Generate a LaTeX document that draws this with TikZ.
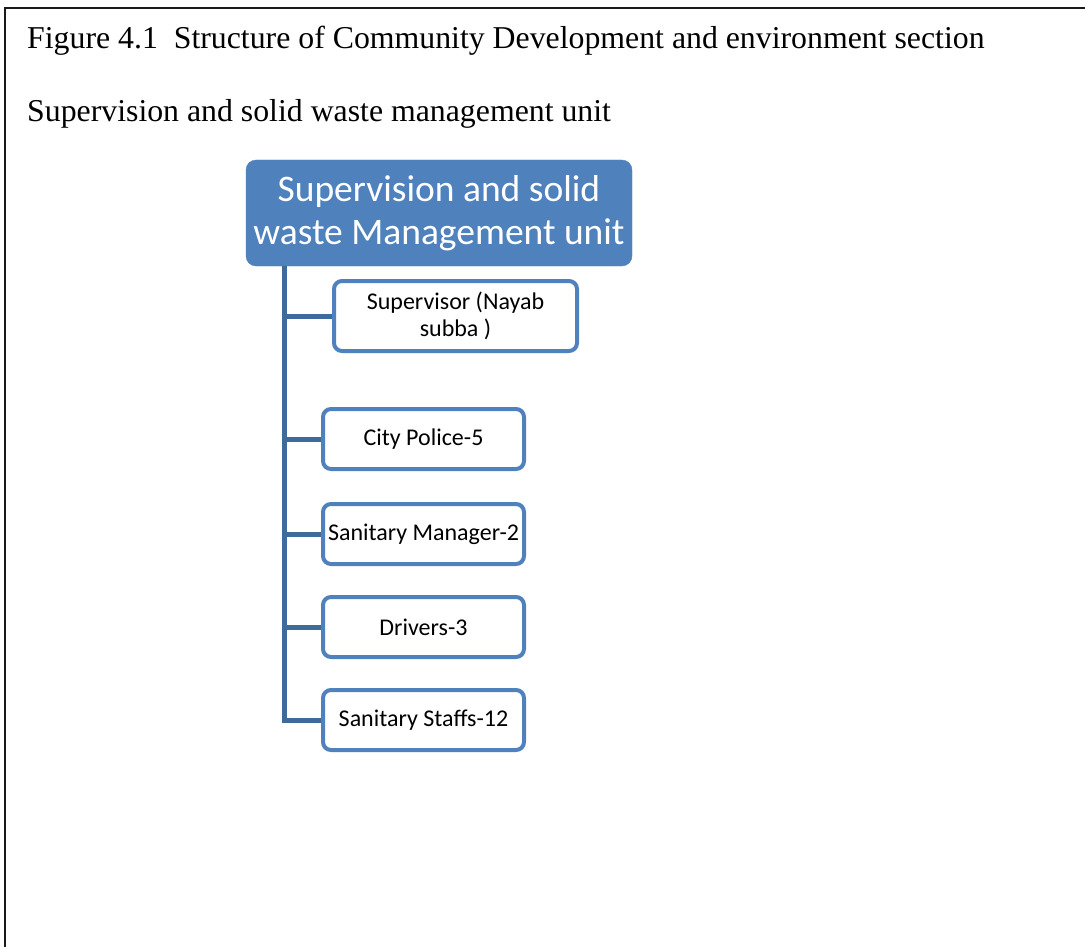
\documentclass[tikz,border=0pt]{standalone}
\usepackage{fontspec}
\setmainfont{Liberation Serif}
\newfontfamily\capfont{Liberation Serif}
\newfontfamily\boxfont{Carlito}
\definecolor{accent}{HTML}{4F81BD}
\definecolor{linkcol}{HTML}{3F6A9C}
\definecolor{framecol}{HTML}{1A1A1A}
\begin{document}
\begin{tikzpicture}[x=1pt,y=-1pt,
  caption/.style={anchor=base west, inner sep=0pt, font=\capfont\fontsize{31.8}{36}\selectfont},
  headbox/.style={fill=accent, draw=accent, rounded corners=10pt, text=white,
    font=\boxfont\fontsize{37.5}{43}\selectfont, align=center, inner sep=0pt},
  childbox/.style={draw=accent, line width=4pt, fill=white, rounded corners=8pt,
    font=\boxfont\fontsize{24}{27}\selectfont, align=center, inner sep=0pt,
    minimum height=60pt, minimum width=201pt},
  link/.style={draw=linkcol, line width=5pt}]
\useasboundingbox (0,0) rectangle (1085,947);
\draw[framecol, line width=2pt] (5,947) -- (5,8.5) -- (1085,8.5);
\node[caption] (title) at (27,48.5) {Figure 4.1\ \ Structure of Community Development and environment section};
\node[caption] (subtitle) at (27,121.5) {Supervision and solid waste management unit};
\node[headbox, minimum width=386pt, minimum height=106pt] (head) at (439,213) {Supervision and solid\\waste Management unit};
\node[childbox, minimum width=243pt, minimum height=70pt] (sup) at (455.5,316) {Supervisor (Nayab\\subba )};
\node[childbox] (cp) at (423.5,439) {City Police-5};
\node[childbox] (sm) at (423.5,534) {Sanitary Manager-2};
\node[childbox] (dr) at (423.5,627) {Drivers-3};
\node[childbox] (st) at (423.5,720) {Sanitary Staffs-12};
\coordinate (trunk) at (284,266);
\draw[link] (trunk) |- (st.west);
\draw[link] (trunk |- sup.west) -- (sup.west);
\draw[link] (trunk |- cp.west) -- (cp.west);
\draw[link] (trunk |- sm.west) -- (sm.west);
\draw[link] (trunk |- dr.west) -- (dr.west);
\end{tikzpicture}
\end{document}
